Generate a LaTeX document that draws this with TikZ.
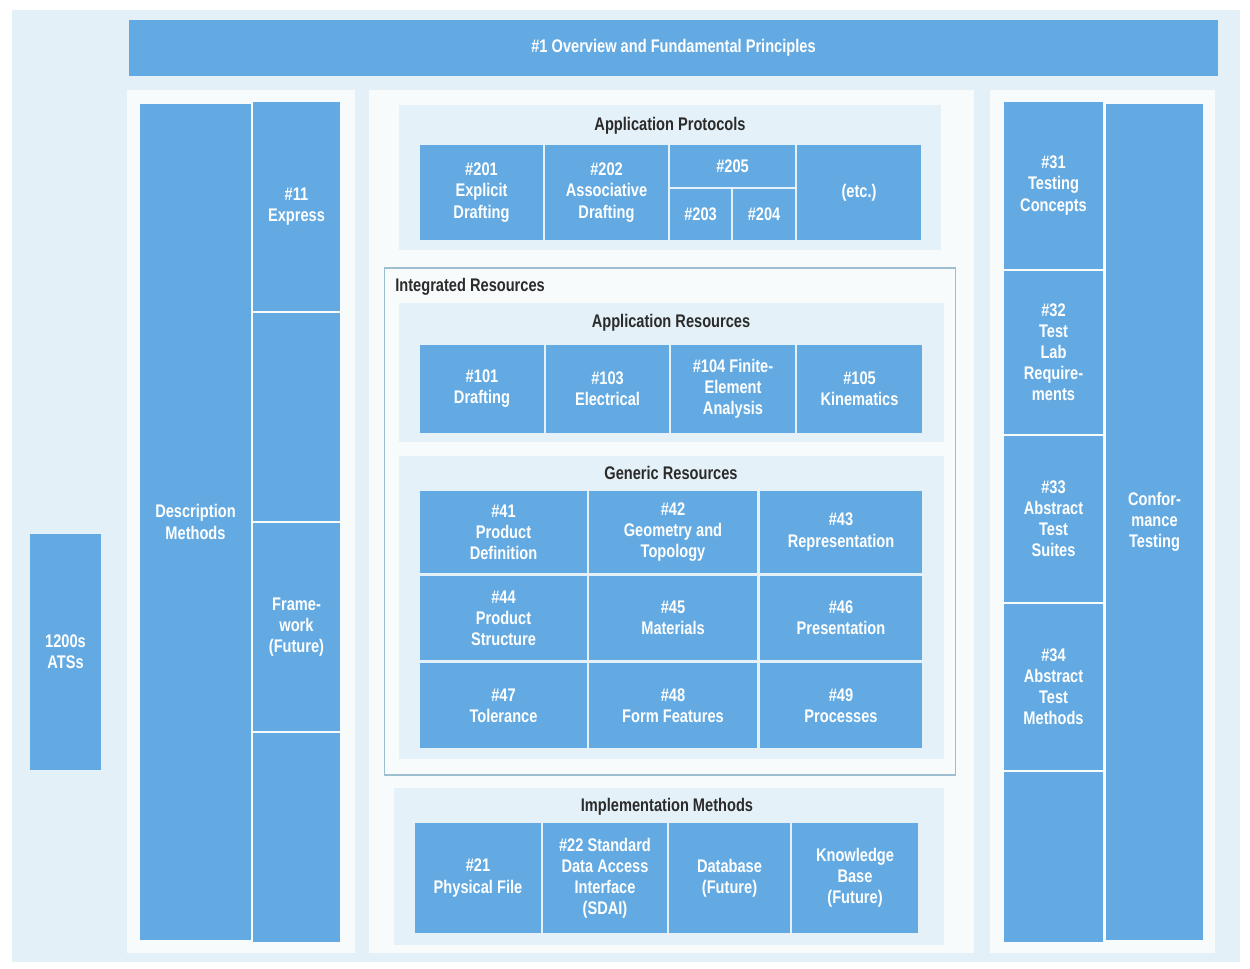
\documentclass[tikz,border=0pt]{standalone}
\usepackage{fontspec}
\setmainfont{Liberation Sans}[FakeStretch=0.8]
\definecolor{boxblue}{HTML}{63AAE3}
\definecolor{bgblue}{HTML}{E3F0F7}
\definecolor{panelwhite}{HTML}{F8FBFC}
\definecolor{lightpanel}{HTML}{E5F1F8}
\definecolor{titlegray}{HTML}{2B2B2B}
\definecolor{framegray}{HTML}{9DBFCF}
\tikzset{
  bx/.style={fill=boxblue, draw=none, inner sep=0pt, align=center, text=white,
    font=\bfseries\fontsize{10.4}{12}\selectfont},
  panel/.style={fill=panelwhite, draw=none, inner sep=0pt},
  lpanel/.style={fill=lightpanel, draw=none, inner sep=0pt},
  bgpanel/.style={fill=bgblue, draw=none, inner sep=0pt},
  ttl/.style={text=titlegray, inner sep=0pt, font=\bfseries\fontsize{10.4}{12}\selectfont},
}
\newcommand\bx[7][bx]{\node[#1, minimum width={(#5-#3)*0.5669pt}, minimum height={(#6-#4)*0.5669pt}] (#2) at ({(#3+#5)/2},{(#4+#6)/2}) {#7};}
\begin{document}
\begin{tikzpicture}[x=0.02cm, y=-0.02cm]
\useasboundingbox (0,0) rectangle (1250,969);
\fill[white] (0,0) rectangle (1250,969);
\bx[bgpanel]{bg}{10}{8}{1242}{964}{}
% top bar
\bx{top}{127}{20}{1220}{76}{\#1 Overview and Fundamental Principles}
% white panels
\bx[panel]{lp}{127}{88}{355}{955}{}
\bx[panel]{mp}{368}{88}{975}{955}{}
\bx[panel]{rp}{990}{88}{1215}{955}{}
% 1200s
\bx{ats}{30}{534}{101}{770}{1200s\\ATSs}
% left column
\bx{desc}{140}{102}{251}{942}{Description\\Methods}
\bx{express}{253}{102}{340}{311}{\#11\\Express}
\bx{blankA}{253}{313}{340}{521}{}
\bx{frame}{253}{523}{340}{731}{Frame-\\work\\(Future)}
\bx{blankB}{253}{733}{340}{942}{}
% Application protocols
\bx[lpanel]{appp}{398}{105}{942}{250}{}
\node[ttl] (apptitle) at (670,126) {Application Protocols};
\bx{p201}{420}{145}{543}{240}{\#201\\Explicit\\Drafting}
\bx{p202}{545}{145}{668}{240}{\#202\\Associative\\Drafting}
\bx{p205}{670}{145}{795}{187}{\#205}
\bx{p203}{670}{189}{731}{240}{\#203}
\bx{p204}{733}{189}{795}{240}{\#204}
\bx{petc}{797}{145}{921}{240}{(etc.)}
% Integrated resources frame
\node[draw=framegray, line width=0.6pt, fill=panelwhite, inner sep=0pt, minimum width={574*0.5669pt}, minimum height={509*0.5669pt}] (intres) at (670,521.5) {};
\node[ttl, anchor=west] (inttitle) at (395,287) {Integrated Resources};
% Application resources
\bx[lpanel]{appr}{398}{303}{945}{442}{}
\node[ttl] (artitle) at (671,323) {Application Resources};
\bx{r101}{420}{345}{544}{433}{\#101\\Drafting}
\bx{r103}{546}{345}{669}{433}{\#103\\Electrical}
\bx{r104}{671}{345}{795}{433}{\#104 Finite-\\Element\\Analysis}
\bx{r105}{797}{345}{922}{433}{\#105\\Kinematics}
% Generic resources
\bx[lpanel]{genr}{398}{455}{945}{760}{}
\node[ttl] (grtitle) at (671,473) {Generic Resources};
\bx{g41}{420}{491}{587}{573}{\#41\\Product\\Definition}
\bx{g42}{589}{491}{757}{573}{\#42\\Geometry and\\Topology}
\bx{g43}{760}{491}{922}{573}{\#43\\Representation}
\bx{g44}{420}{576}{587}{660}{\#44\\Product\\Structure}
\bx{g45}{589}{576}{757}{660}{\#45\\Materials}
\bx{g46}{760}{576}{922}{660}{\#46\\Presentation}
\bx{g47}{420}{663}{587}{748}{\#47\\Tolerance}
\bx{g48}{589}{663}{757}{748}{\#48\\Form Features}
\bx{g49}{760}{663}{922}{748}{\#49\\Processes}
% Implementation methods
\bx[lpanel]{impl}{393}{788}{945}{945}{}
\node[ttl] (imtitle) at (667,807) {Implementation Methods};
\bx{m21}{415}{823}{541}{933}{\#21\\Physical File}
\bx{m22}{543}{823}{667}{933}{\#22 Standard\\Data Access\\Interface\\(SDAI)}
\bx{mdb}{669}{823}{790}{933}{Database\\(Future)}
\bx{mkb}{792}{823}{918}{933}{Knowledge\\Base\\(Future)}
% right column
\bx{t31}{1004}{102}{1103}{269}{\#31\\Testing\\Concepts}
\bx{t32}{1004}{271}{1103}{434}{\#32\\Test\\Lab\\Require-\\ments}
\bx{t33}{1004}{436}{1103}{602}{\#33\\Abstract\\Test\\Suites}
\bx{t34}{1004}{604}{1103}{770}{\#34\\Abstract\\Test\\Methods}
\bx{tblank}{1004}{772}{1103}{942}{}
\bx{conf}{1106}{102}{1203}{942}{Confor-\\mance\\Testing}
\end{tikzpicture}
\end{document}
